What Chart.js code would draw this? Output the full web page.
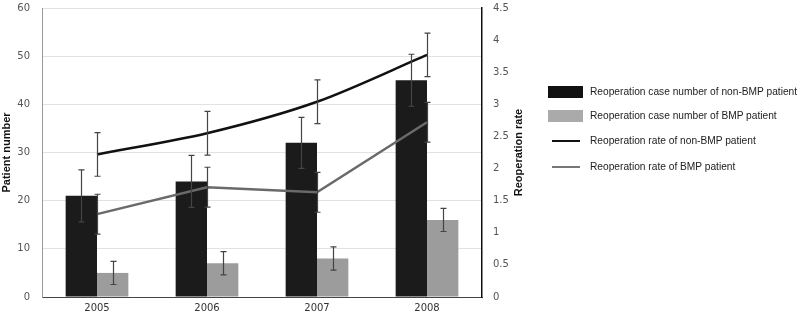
<!DOCTYPE html>
<html>
<head>
<meta charset="utf-8">
<script src="https://cdn.jsdelivr.net/npm/chart.js@4/dist/chart.umd.min.js"></script>
<style>
    html, body { margin: 0; padding: 0; background: #fff; }
    #wrap { position: relative; width: 800px; height: 317px; }
    #legend { position: absolute; left: 548px; top: 0; font-family: "Liberation Sans", Arial, sans-serif; font-size: 10.2px; color: #222; }
    .item { position: absolute; left: 0; white-space: nowrap; }
    .sw { position: absolute; left: 0; }
    .lbl { position: absolute; left: 42px; top: -6px; }
</style>
</head>
<body>
<div id="wrap">
    <canvas id="chart" width="800" height="317"></canvas>
    <div id="legend"></div>
</div>
<script>
var years = ['2005', '2006', '2007', '2008'];
var nonBmpCases = [21, 24, 32, 45];
var bmpCases = [5, 7, 8, 16];
var nonBmpRate = [2.22, 2.55, 3.04, 3.77];
var bmpRate = [1.29, 1.71, 1.63, 2.72];
var nonBmpCasesErr = [5.4, 5.4, 5.3, 5.4];
var bmpCasesErr = [2.4, 2.4, 2.4, 2.4];
var nonBmpRateErr = [0.34, 0.34, 0.34, 0.34];
var bmpRateErr = [0.31, 0.31, 0.31, 0.31];
var seriesNames = [
    'Reoperation case number of non-BMP patient',
    'Reoperation case number of BMP patient',
    'Reoperation rate of non-BMP patient',
    'Reoperation rate of BMP patient'
];
var rightTitle = 'Reoperation rate';

// draws the +/- error whiskers on every bar and line point
var errorBars = {
    id: 'errorBars',
    afterDatasetsDraw: function (chart) {
        var ctx = chart.ctx;
        chart.data.datasets.forEach(function (ds, i) {
            var meta = chart.getDatasetMeta(i);
            var scale = chart.scales[ds.yAxisID];
            meta.data.forEach(function (el, j) {
                var v = ds.data[j], e = ds.errors[j];
                var x = Math.round(el.x) + 0.5;
                var top = scale.getPixelForValue(v + e);
                var bot = scale.getPixelForValue(v - e);
                ctx.save();
                ctx.strokeStyle = '#444';
                ctx.lineWidth = 1.2;
                ctx.beginPath();
                ctx.moveTo(x, top); ctx.lineTo(x, bot);
                ctx.moveTo(x - 3, top); ctx.lineTo(x + 3, top);
                ctx.moveTo(x - 3, bot); ctx.lineTo(x + 3, bot);
                ctx.stroke();
                ctx.restore();
            });
        });
    }
};

// right axis title reads bottom-to-top like the left one
var rightAxisTitle = {
    id: 'rightAxisTitle',
    afterDraw: function (chart) {
        var ctx = chart.ctx, area = chart.chartArea;
        ctx.save();
        ctx.translate(area.right + 37, (area.top + area.bottom) / 2);
        ctx.rotate(-Math.PI / 2);
        ctx.font = 'bold 11px "Liberation Sans"';
        ctx.fillStyle = '#111';
        ctx.textAlign = 'center';
        ctx.textBaseline = 'middle';
        ctx.fillText(rightTitle, 0, 0);
        ctx.restore();
    }
};

var tickFont = { family: 'DejaVu Sans', size: 10 };
var titleFont = { family: 'Liberation Sans', size: 11, weight: 'bold' };

function fitVertical(width) {
    return function (s) {
        s.width = width;
        s.paddingTop = 0;
        s.paddingBottom = 0;
    };
}

var chart = new Chart(document.getElementById('chart'), {
    type: 'bar',
    data: {
        labels: years,
        datasets: [
            { type: 'line', label: seriesNames[2], data: nonBmpRate, errors: nonBmpRateErr, yAxisID: 'y1',
              borderColor: '#111', borderWidth: 2.5, pointRadius: 0, tension: 0.3, order: 0 },
            { type: 'line', label: seriesNames[3], data: bmpRate, errors: bmpRateErr, yAxisID: 'y1',
              borderColor: '#6a6a6a', borderWidth: 2.5, pointRadius: 0, tension: 0, order: 0 },
            { label: seriesNames[0], data: nonBmpCases, errors: nonBmpCasesErr, yAxisID: 'y',
              backgroundColor: '#1b1b1b', categoryPercentage: 0.57, barPercentage: 1, order: 1 },
            { label: seriesNames[1], data: bmpCases, errors: bmpCasesErr, yAxisID: 'y',
              backgroundColor: '#9c9c9c', categoryPercentage: 0.57, barPercentage: 1, order: 1 }
        ]
    },
    options: {
        responsive: false,
        animation: false,
        layout: { padding: { left: 0, right: 268, top: 8, bottom: 0 } },
        plugins: { legend: { display: false }, tooltip: { enabled: false } },
        scales: {
            x: {
                offset: true,
                grid: { display: false, drawTicks: false },
                border: { display: true, color: '#444', width: 1 },
                ticks: { font: tickFont, color: '#333', padding: 5 },
                afterFit: function (s) { s.height = 20; }
            },
            y: {
                position: 'left', min: 0, max: 60,
                grid: { color: '#e2e2e2', drawTicks: false },
                border: { display: true, color: '#999', width: 1 },
                ticks: { stepSize: 10, font: tickFont, color: '#555', padding: 12 },
                title: { display: true, text: 'Patient number', font: titleFont, color: '#111', padding: 0 },
                afterFit: fitVertical(42)
            },
            y1: {
                position: 'right', min: 0, max: 4.5,
                grid: { display: false, drawTicks: false },
                border: { display: true, color: '#111', width: 1.5 },
                ticks: { stepSize: 0.5, font: tickFont, color: '#555', padding: 11,
                         callback: function (v) { return '' + v; } },
                afterFit: fitVertical(50)
            }
        }
    },
    plugins: [errorBars, rightAxisTitle]
});

// legend on the right, built from the series names
var legendRows = [
    { top: 92, kind: 'box', color: '#111' },
    { top: 116, kind: 'box', color: '#aaa' },
    { top: 141, kind: 'line', color: '#111' },
    { top: 167, kind: 'line', color: '#777' }
];
var legend = document.getElementById('legend');
legendRows.forEach(function (r, i) {
    var item = document.createElement('div');
    item.className = 'item';
    item.style.top = r.top + 'px';
    var sw = document.createElement('div');
    sw.className = 'sw';
    if (r.kind == 'box') {
        sw.style.width = '35px'; sw.style.height = '12px'; sw.style.top = '-6px';
        sw.style.background = r.color;
    } else {
        sw.style.left = '4px'; sw.style.width = '28px'; sw.style.height = '2px'; sw.style.top = '-1px';
        sw.style.background = r.color;
    }
    var lbl = document.createElement('div');
    lbl.className = 'lbl';
    lbl.textContent = seriesNames[i];
    item.appendChild(sw);
    item.appendChild(lbl);
    legend.appendChild(item);
});
</script>
</body>
</html>
